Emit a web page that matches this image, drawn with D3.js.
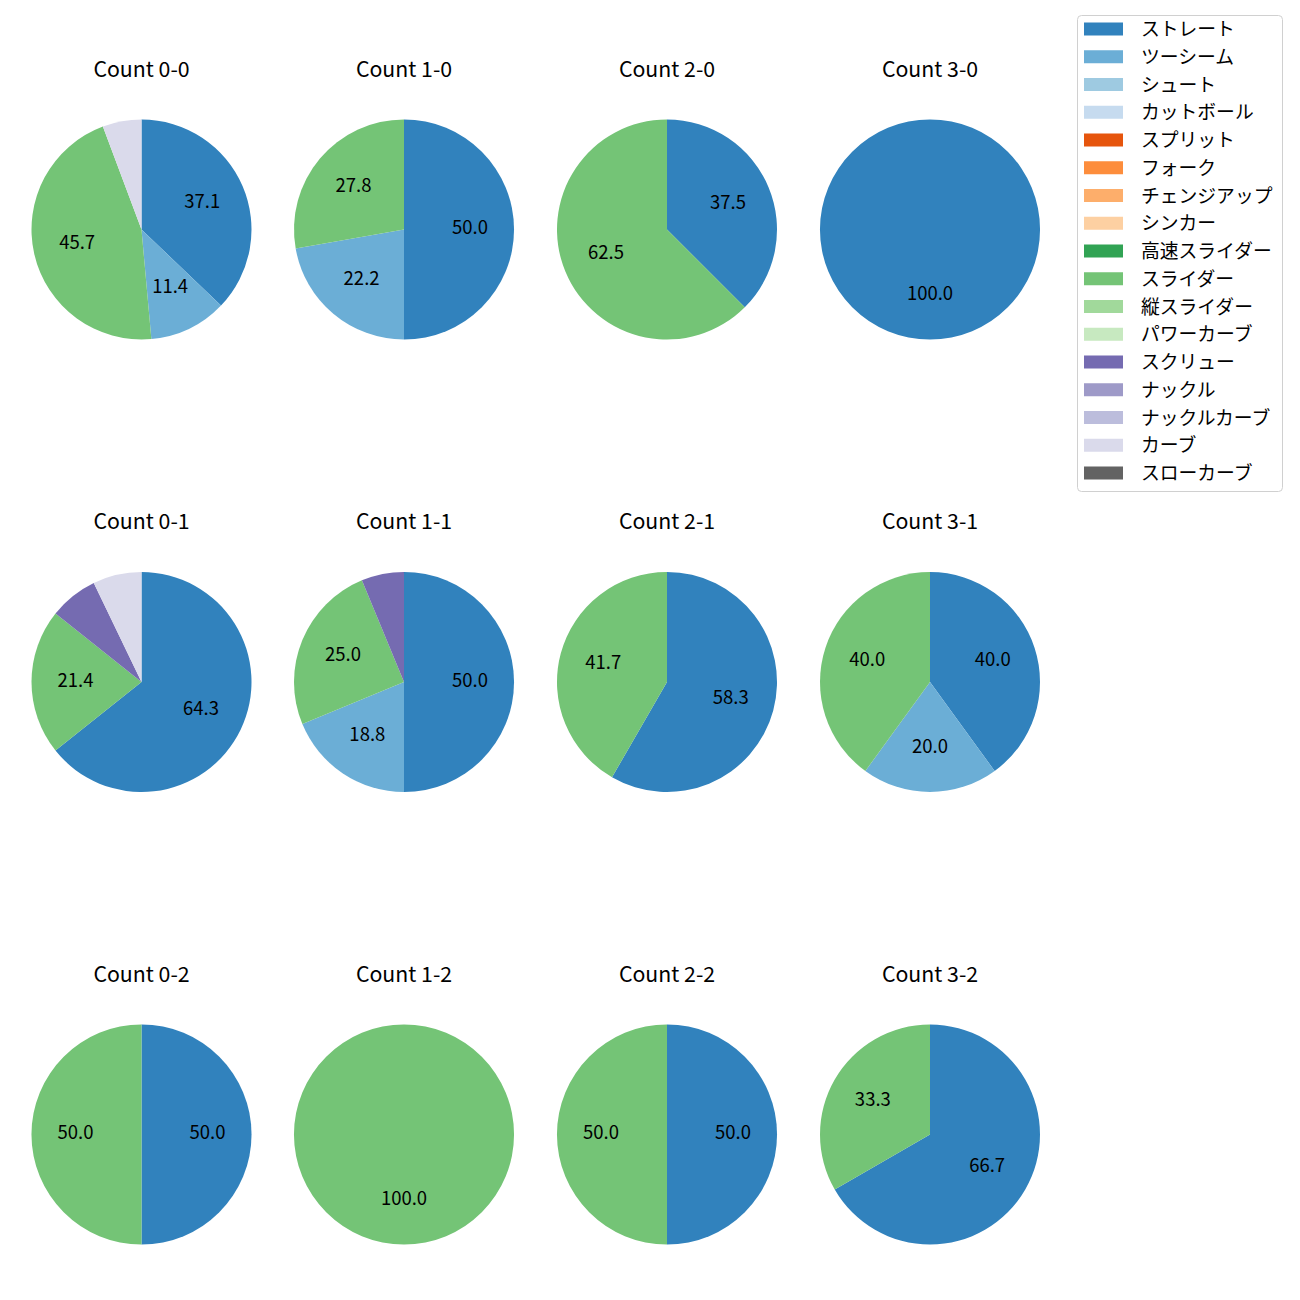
<!DOCTYPE html>
<html><head><meta charset="utf-8">
<script src="https://cdn.jsdelivr.net/npm/d3@7"></script>
<style>body{margin:0;background:#fff}</style>
</head><body>
<svg id="c" width="1300" height="1300"></svg>
<script>
const pitchTypes = ["ストレート","ツーシーム","シュート","カットボール","スプリット","フォーク","チェンジアップ","シンカー","高速スライダー","スライダー","縦スライダー","パワーカーブ","スクリュー","ナックル","ナックルカーブ","カーブ","スローカーブ"];
const pitchColors = ["#3182bd","#6baed6","#9ecae1","#c6dbef","#e6550d","#fd8d3c","#fdae6b","#fdd0a2","#31a354","#74c476","#a1d99b","#c7e9c0","#756bb1","#9e9ac8","#bcbddc","#dadaeb","#636363"];
const countTitles = ["Count 0-0","Count 1-0","Count 2-0","Count 3-0","Count 0-1","Count 1-1","Count 2-1","Count 3-1","Count 0-2","Count 1-2","Count 2-2","Count 3-2"];
// pitch counts per count situation, in pitchTypes order
const c00 = [13,4,0,0,0,0,0,0,0,16,0,0,0,0,0,2,0];
const c10 = [9,4,0,0,0,0,0,0,0,5,0,0,0,0,0,0,0];
const c20 = [3,0,0,0,0,0,0,0,0,5,0,0,0,0,0,0,0];
const c30 = [1,0,0,0,0,0,0,0,0,0,0,0,0,0,0,0,0];
const c01 = [9,0,0,0,0,0,0,0,0,3,0,0,1,0,0,1,0];
const c11 = [8,3,0,0,0,0,0,0,0,4,0,0,1,0,0,0,0];
const c21 = [7,0,0,0,0,0,0,0,0,5,0,0,0,0,0,0,0];
const c31 = [2,1,0,0,0,0,0,0,0,2,0,0,0,0,0,0,0];
const c02 = [1,0,0,0,0,0,0,0,0,1,0,0,0,0,0,0,0];
const c12 = [0,0,0,0,0,0,0,0,0,1,0,0,0,0,0,0,0];
const c22 = [1,0,0,0,0,0,0,0,0,1,0,0,0,0,0,0,0];
const c32 = [2,0,0,0,0,0,0,0,0,1,0,0,0,0,0,0,0];
const countValues = [c00,c10,c20,c30,c01,c11,c21,c31,c02,c12,c22,c32];
const labelMinPct = 10;

const svg = d3.select("#c");
const font = "'Noto Sans CJK JP', 'Noto Sans', sans-serif";
const colX = [141.5, 404, 667, 930];
const rowY = [229.5, 682, 1134.5];
const R = 110;
const color = d3.scaleOrdinal().domain(pitchTypes).range(pitchColors);
const pie = d3.pie().sort(null).value(d => d.v).startAngle(0).endAngle(2*Math.PI);
const arc = d3.arc().innerRadius(0).outerRadius(R);
const labelArc = d3.arc().innerRadius(R*0.6).outerRadius(R*0.6);

countValues.forEach((vals, i) => {
  const cx = colX[i % 4], cy = rowY[Math.floor(i / 4)];
  const g = svg.append("g").attr("transform", `translate(${cx},${cy})`);
  const total = d3.sum(vals);
  const data = vals.map((v, k) => ({name: pitchTypes[k], v})).filter(d => d.v > 0);
  const arcs = pie(data);
  g.selectAll("path").data(arcs).join("path")
    .attr("d", arc).attr("fill", d => color(d.data.name));
  g.selectAll("text.lbl").data(arcs.filter(d => d.data.v / total * 100 >= labelMinPct)).join("text")
    .attr("class","lbl")
    .attr("transform", d => { const c = labelArc.centroid(d); return `translate(${c[0]},${c[1] + 4.5})`; })
    .attr("text-anchor","middle")
    .attr("font-family", font).attr("font-size", 18.5).attr("fill","#000")
    .text(d => (d.data.v / total * 100).toFixed(1));
  svg.append("text").attr("x", cx).attr("y", cy - 153)
    .attr("text-anchor","middle")
    .attr("font-family", font).attr("font-size", 21.3).attr("fill","#000")
    .text(countTitles[i]);
});

// legend
const lg = svg.append("g");
lg.append("rect").attr("x",1077.5).attr("y",15.5).attr("width",205).attr("height",476)
  .attr("rx",4).attr("fill","#fff").attr("fill-opacity",0.8).attr("stroke","#d0d0d0");
pitchTypes.forEach((name, i) => {
  const y = 29 + i * 27.75;
  lg.append("rect").attr("x",1084).attr("y", y - 6.5).attr("width",39).attr("height",13).attr("fill", color(name));
  lg.append("text").attr("x",1141).attr("y",y + 7)
    .attr("font-family", font).attr("font-size", 18.8).attr("fill","#000").text(name);
});
</script>
</body></html>
